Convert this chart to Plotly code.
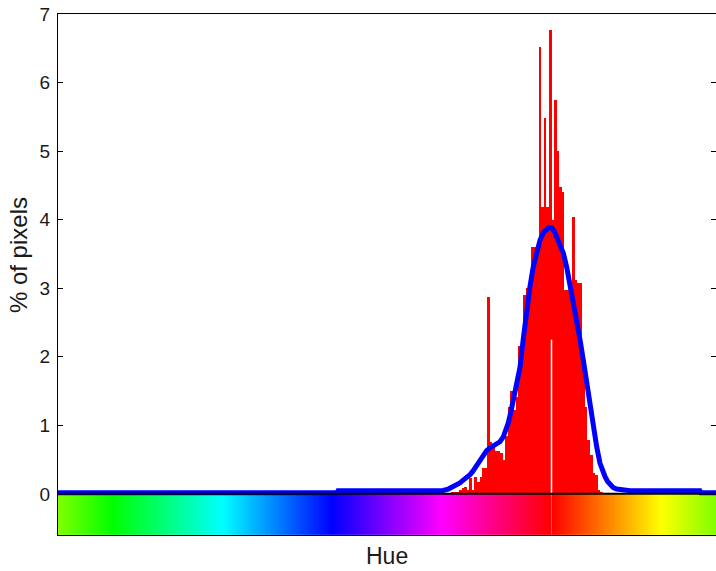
import numpy as np
import plotly.graph_objects as go

# ---------------- data ----------------
# Histogram: 256 bins over the full hue circle (degrees, axis shifted to start at 90)
BIN_WIDTH = 360.0 / 256.0
BIN_START = 303.75          # hue of the left edge of the first listed bin
hist_pct = [0.01, 0.02, 0.02, 0.03, 0.06, 0.08, 0.10, 0.06, 0.23, 0.06,
            0.25, 0.17, 0.25, 0.38, 0.38, 2.87, 0.76, 0.72, 0.62, 0.62,
            0.60, 0.50, 0.84, 1.27, 1.50, 1.22, 1.41, 2.15, 2.10, 2.90,
            3.00, 3.07, 3.60, 3.60, 3.60, 6.52, 4.18, 5.48, 4.18, 6.77,
            4.00, 5.74, 5.00, 4.48, 4.40, 2.97, 2.97, 2.97, 4.04, 3.12,
            3.07, 3.07, 2.00, 1.27, 0.79, 0.57, 0.30, 0.28, 0.05, 0.02]

# Smoothed density curve (hue in degrees, % of pixels)
curve_hue = [90.0, 242.6, 243.2, 299.0, 300.6, 303.5, 306.1, 308.1, 309.9, 311.7,
             313.8, 315.4, 317.0, 319.1, 321.0, 322.7, 324.5, 326.3, 328.2, 330.0,
             331.8, 333.6, 335.0, 336.4, 337.8, 339.1, 340.5, 341.8, 342.8, 344.6,
             346.4, 348.2, 350.0, 351.8, 353.7, 355.5, 357.4, 358.8, 360.1, 361.5,
             362.8, 364.6, 366.5, 368.3, 370.1, 372.0, 373.8, 375.6, 377.4, 378.8,
             380.1, 381.1, 382.0, 382.9, 384.7, 386.5, 387.9, 389.3, 390.7, 392.0,
             393.8, 395.7, 399.0, 403.0, 441.2, 441.8, 450.0]
curve_pct = [0.015, 0.015, 0.045, 0.045, 0.05, 0.07, 0.10, 0.13, 0.16, 0.20,
             0.24, 0.28, 0.33, 0.41, 0.50, 0.57, 0.63, 0.67, 0.70, 0.72,
             0.76, 0.83, 0.92, 1.04, 1.20, 1.37, 1.52, 1.68, 1.85, 2.27,
             2.68, 3.02, 3.31, 3.53, 3.70, 3.81, 3.87, 3.89, 3.88, 3.83,
             3.75, 3.65, 3.51, 3.31, 3.07, 2.82, 2.54, 2.25, 1.95, 1.70,
             1.48, 1.32, 1.16, 0.99, 0.69, 0.45, 0.34, 0.25, 0.18, 0.13,
             0.09, 0.07, 0.055, 0.045, 0.045, 0.015, 0.015]

HUE_MIN, HUE_MAX = 90.0, 450.0
Y_TICKS = [0, 1, 2, 3, 4, 5, 6, 7]
STRIP_BOTTOM = -0.6
WRAP_HUE = 360.0
WRAP_MARK_TOP = 2.25

# ---------------- figure ----------------
bin_centers = [BIN_START + (k + 0.5) * BIN_WIDTH for k in range(len(hist_pct))]

ncols = 720
edges = np.linspace(HUE_MIN, HUE_MAX, ncols + 1)
centers = (edges[:-1] + edges[1:]) / 2
hue_scale = [
    [0.0, "rgb(128,255,0)"],
    [30 / 360, "rgb(0,255,0)"],
    [90 / 360, "rgb(0,255,255)"],
    [150 / 360, "rgb(0,0,255)"],
    [210 / 360, "rgb(255,0,255)"],
    [270 / 360, "rgb(255,0,0)"],
    [330 / 360, "rgb(255,255,0)"],
    [1.0, "rgb(128,255,0)"],
]

fig = go.Figure()
fig.add_trace(go.Heatmap(
    z=[centers.tolist()], x=edges.tolist(), y=[STRIP_BOTTOM, 0],
    colorscale=hue_scale, zmin=HUE_MIN, zmax=HUE_MAX,
    showscale=False, hoverinfo="skip"))
fig.add_trace(go.Bar(
    x=bin_centers, y=hist_pct, width=BIN_WIDTH,
    marker=dict(color="rgb(255,0,0)", line=dict(width=0)),
    showlegend=False))
fig.add_trace(go.Scatter(
    x=curve_hue, y=curve_pct, mode="lines",
    line=dict(color="rgb(0,0,255)", width=5, shape="linear"),
    showlegend=False))

# white gap in histogram and magenta mark on the strip at the hue wrap
fig.add_shape(type="line", x0=WRAP_HUE, x1=WRAP_HUE, y0=0, y1=WRAP_MARK_TOP,
              line=dict(color="white", width=1.5), layer="above")
fig.add_shape(type="line", x0=WRAP_HUE, x1=WRAP_HUE, y0=STRIP_BOTTOM, y1=0,
              line=dict(color="rgb(255,60,200)", width=1), layer="above")
# black separator at zero
fig.add_shape(type="line", x0=HUE_MIN, x1=HUE_MAX, y0=0, y1=0,
              line=dict(color="black", width=2), layer="above")

font = "Liberation Sans, Arial, Helvetica, sans-serif"
fig.update_layout(
    width=716, height=571,
    margin=dict(l=58, r=0, t=14, b=36, autoexpand=False),
    paper_bgcolor="white", plot_bgcolor="white",
    bargap=0,
    showlegend=False,
    font=dict(family=font, color="#1a1a1a"),
    xaxis=dict(range=[HUE_MIN, HUE_MAX], showgrid=False, zeroline=False,
               showticklabels=False, ticks="", showline=True, automargin=False,
               linecolor="black", linewidth=1, mirror=True),
    yaxis=dict(range=[STRIP_BOTTOM, 7], tickvals=Y_TICKS, automargin=False,
               showgrid=False, zeroline=False, ticks="inside", ticklen=5,
               tickcolor="black", showline=True, linecolor="black",
               linewidth=1, mirror="ticks", ticklabelstandoff=3,
               tickfont=dict(size=19, family=font, color="#1a1a1a")),
    annotations=[
        dict(text="Hue", xref="paper", yref="paper", x=0.5, y=-0.04,
             xanchor="center", yanchor="middle", showarrow=False,
             font=dict(size=23, family=font, color="#1a1a1a")),
        dict(text="% of pixels", xref="paper", yref="paper", x=-0.061,
             y=0.537, xanchor="center", yanchor="middle", textangle=-90,
             showarrow=False, font=dict(size=24, family=font, color="#1a1a1a")),
    ],
)

fig.write_html(
    "out.html",
    config={"displayModeBar": False},
    post_script="document.body.style.margin='0';document.body.style.overflow='hidden';",
)
